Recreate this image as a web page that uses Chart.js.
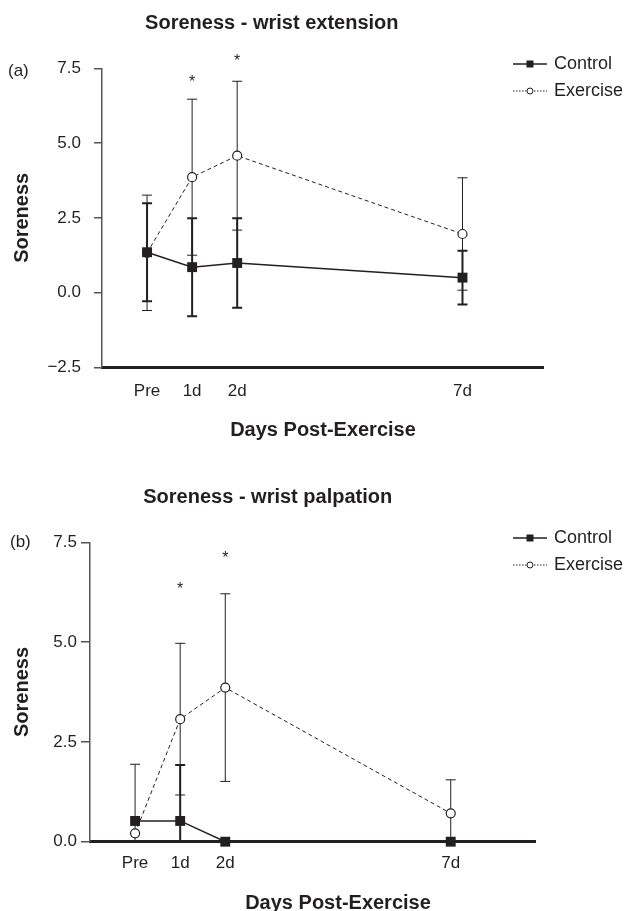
<!DOCTYPE html>
<html>
<head>
<meta charset="utf-8">
<script src="https://cdn.jsdelivr.net/npm/chart.js@4.4.1/dist/chart.umd.min.js"></script>
<style>
  html, body { margin: 0; padding: 0; background: #fff; }
  body { width: 634px; height: 911px; position: relative; overflow: hidden; }
  canvas { position: absolute; left: 0; }
  #chartA { top: 0; }
  #chartB { top: 440px; }
</style>
</head>
<body>
<canvas id="chartA" width="634" height="440"></canvas>
<canvas id="chartB" width="634" height="471"></canvas>
<script>
// ---------- dados ----------
const days = [0, 1, 2, 7];
const dayLabels = ['Pre', '1d', '2d', '7d'];
const yTicksA = [-2.5, 0, 2.5, 5, 7.5];
const yTicksB = [0, 2.5, 5, 7.5];

// (a) wrist extension
const controlA = [1.35, 0.85, 0.99, 0.50];
const controlSdA = [1.64, 1.64, 1.50, 0.90];
const exerciseA = [1.33, 3.86, 4.58, 1.96];
const exerciseSdA = [1.93, 2.61, 2.49, 1.88];
const starDaysA = [1, 2];
const starValsA = [7.19, 7.89];

// (b) wrist palpation
const controlB = [0.52, 0.52, 0, 0];
const controlSdB = [0, 1.40, 0, 0];
const exerciseB = [0.21, 3.07, 3.86, 0.71];
const exerciseSdB = [1.73, 1.90, 2.35, 0.84];
const starDaysB = [1, 2];
const starValsB = [6.43, 7.20];

const INK = '#231f20';
const AXIS = '#555555';
Chart.defaults.font.family = "'Liberation Sans', Arial, sans-serif";
Chart.defaults.color = INK;

// barras de erro (média ± dp)
const errorBars = {
  id: 'errorBars',
  beforeDatasetsDraw(chart) {
    const { ctx, chartArea, scales: { x, y } } = chart;
    ctx.save();
    ctx.beginPath();
    ctx.rect(chartArea.left - 20, chartArea.top - 30, chartArea.right - chartArea.left + 40, chartArea.bottom - chartArea.top + 30);
    ctx.clip();
    chart.data.datasets.forEach(ds => {
      ctx.strokeStyle = INK;
      ctx.lineWidth = ds.errWidth;
      ds.data.forEach((p, i) => {
        const s = ds.sd[i];
        if (!s) return;
        const px = x.getPixelForValue(p.x);
        const hi = y.getPixelForValue(p.y + s);
        const lo = y.getPixelForValue(p.y - s);
        ctx.beginPath();
        ctx.moveTo(px, hi); ctx.lineTo(px, lo);
        ctx.moveTo(px - 5, hi); ctx.lineTo(px + 5, hi);
        ctx.moveTo(px - 5, lo); ctx.lineTo(px + 5, lo);
        ctx.stroke();
      });
    });
    ctx.restore();
  }
};

// letra do painel, legenda, asteriscos e título do eixo x
const extras = {
  id: 'extras',
  afterDraw(chart, args, o) {
    const { ctx, scales: { x, y } } = chart;
    ctx.save();
    ctx.fillStyle = INK;
    ctx.strokeStyle = INK;

    ctx.font = "17px 'Liberation Sans', Arial, sans-serif";
    ctx.textAlign = 'left';
    ctx.textBaseline = 'middle';
    ctx.fillText(o.panel, o.panelPos[0], o.panelPos[1]);

    // legenda
    const lx = o.legendX, ly = o.legendY;
    ctx.lineWidth = 1.5;
    ctx.beginPath(); ctx.moveTo(lx, ly[0]); ctx.lineTo(lx + 34, ly[0]); ctx.stroke();
    ctx.fillRect(lx + 13.5, ly[0] - 3.5, 7, 7);
    ctx.lineWidth = 1;
    ctx.setLineDash([1.5, 1.5]);
    ctx.beginPath(); ctx.moveTo(lx, ly[1]); ctx.lineTo(lx + 34, ly[1]); ctx.stroke();
    ctx.setLineDash([]);
    ctx.beginPath(); ctx.arc(lx + 17, ly[1], 3, 0, Math.PI * 2);
    ctx.fillStyle = '#fff'; ctx.fill(); ctx.stroke();
    ctx.fillStyle = INK;
    ctx.font = "18px 'Liberation Sans', Arial, sans-serif";
    chart.data.datasets.forEach((ds, i) => ctx.fillText(ds.label, lx + 41, ly[i]));

    // asteriscos
    ctx.font = "16px 'Liberation Sans', Arial, sans-serif";
    ctx.textAlign = 'center';
    ctx.textBaseline = 'alphabetic';
    o.starDays.forEach((d, i) => {
      ctx.fillText('*', x.getPixelForValue(d), y.getPixelForValue(o.starVals[i]) + 9);
    });

    // título do eixo x
    ctx.font = "bold 20px 'Liberation Sans', Arial, sans-serif";
    ctx.textBaseline = 'middle';
    ctx.fillText(o.xTitle, o.xTitlePos[0], o.xTitlePos[1]);
    ctx.restore();
  }
};

function fmt(v) {
  return v < 0 ? '\u2212' + Math.abs(v).toFixed(1) : v.toFixed(1);
}

function makeChart(id, p) {
  const ctx = document.getElementById(id).getContext('2d');
  return new Chart(ctx, {
    type: 'line',
    data: {
      datasets: [
        {
          label: 'Control',
          data: days.map((d, i) => ({ x: d, y: p.control[i] })),
          sd: p.controlSd,
          errWidth: 2,
          borderColor: INK,
          borderWidth: 1.5,
          pointStyle: 'rect',
          pointRadius: 7,
          pointBackgroundColor: INK,
          pointBorderColor: INK,
          pointBorderWidth: 0,
          clip: false
        },
        {
          label: 'Exercise',
          data: days.map((d, i) => ({ x: d, y: p.exercise[i] })),
          sd: p.exerciseSd,
          errWidth: 1,
          borderColor: INK,
          borderWidth: 1,
          borderDash: [4, 3],
          pointStyle: 'circle',
          pointRadius: 4.5,
          pointBackgroundColor: '#fff',
          pointBorderColor: INK,
          pointBorderWidth: 1.2,
          clip: false
        }
      ]
    },
    options: {
      responsive: false,
      animation: false,
      events: [],
      layout: { padding: p.padding },
      plugins: {
        legend: { display: false },
        tooltip: { enabled: false },
        title: {
          display: true,
          text: p.title,
          font: { size: 20, weight: 'bold' },
          color: INK,
          padding: p.titlePad
        },
        extras: {
          panel: p.panel,
          panelPos: p.panelPos,
          legendX: 513,
          legendY: p.legendY,
          starDays: p.starDays,
          starVals: p.starVals,
          xTitle: 'Days Post-Exercise',
          xTitlePos: p.xTitlePos
        }
      },
      scales: {
        x: {
          type: 'linear',
          min: -1,
          max: p.xMax,
          afterBuildTicks: s => { s.ticks = days.map(v => ({ value: v })); },
          afterFit: s => { s.height = 40; },
          ticks: {
            callback: (v, i) => dayLabels[i],
            font: { size: 17 },
            color: INK,
            padding: p.xTickPad,
            maxRotation: 0
          },
          grid: { display: false },
          border: { display: true, color: INK, width: 3 }
        },
        y: {
          min: p.yTicks[0],
          max: p.yTicks[p.yTicks.length - 1],
          afterBuildTicks: s => { s.ticks = p.yTicks.map(v => ({ value: v })); },
          afterFit: s => { s.width = p.yWidth; },
          ticks: {
            callback: v => fmt(v),
            font: { size: 17 },
            color: INK,
            padding: p.yTickPad
          },
          grid: {
            display: true,
            drawOnChartArea: false,
            drawTicks: true,
            tickLength: p.tickLen,
            color: AXIS,
            lineWidth: 1.5
          },
          border: { display: true, color: AXIS, width: 1.5 },
          title: {
            display: true,
            text: 'Soreness',
            font: { size: 20, weight: 'bold' },
            color: INK,
            padding: { top: 10, bottom: 4 }
          }
        }
      }
    },
    plugins: [errorBars, extras]
  });
}

makeChart('chartA', {
  title: 'Soreness - wrist extension',
  control: controlA, controlSd: controlSdA,
  exercise: exerciseA, exerciseSd: exerciseSdA,
  starDays: starDaysA, starVals: starValsA,
  yTicks: yTicksA,
  xMax: 8.8,
  padding: { left: 0, right: 90.4, top: 0, bottom: 32.7 },
  titlePad: { top: 11, bottom: 33.4 },
  yWidth: 102, yTickPad: 13, tickLen: 8, xTickPad: 6,
  panel: '(a)', panelPos: [8, 71],
  legendY: [64, 91],
  xTitlePos: [323, 430]
});

makeChart('chartB', {
  title: 'Soreness - wrist palpation',
  control: controlB, controlSd: controlSdB,
  exercise: exerciseB, exerciseSd: exerciseSdB,
  starDays: starDaysB, starVals: starValsB,
  yTicks: yTicksB,
  xMax: 8.88,
  padding: { left: 0, right: 98.5, top: 0, bottom: 29.3 },
  titlePad: { top: 45.3, bottom: 33 },
  yWidth: 90, yTickPad: 4, tickLen: 9, xTickPad: 3.5,
  panel: '(b)', panelPos: [10, 102],
  legendY: [98, 125],
  xTitlePos: [338, 463]
});
</script>
</body>
</html>
